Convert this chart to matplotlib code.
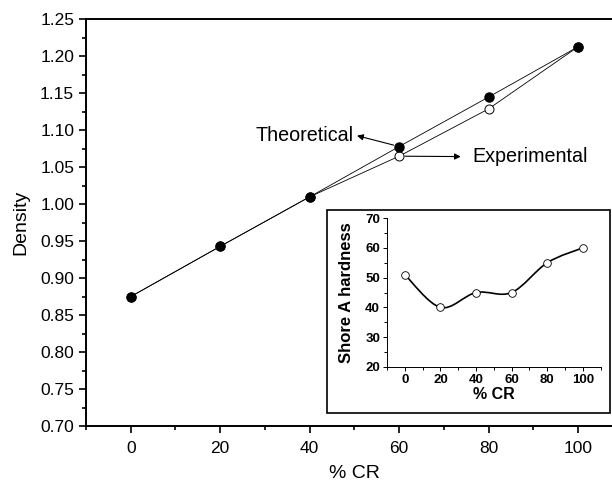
import numpy as np
import matplotlib.pyplot as plt
from matplotlib.path import Path
from matplotlib.patches import PathPatch, Rectangle
from matplotlib.ticker import MultipleLocator

plt.rcParams['font.family'] = ['Liberation Sans', 'DejaVu Sans']

cr = [0, 20, 40, 60, 80, 100]
density_theo = [0.875, 0.943, 1.010, 1.078, 1.145, 1.213]
density_exp = [0.875, 0.943, 1.010, 1.065, 1.129, 1.213]
hardness = [51, 40, 45, 45, 55, 60]


def smooth_path(x, y):
    # Catmull-Rom through the points, written as cubic Bezier segments
    x = np.asarray(x, float)
    y = np.asarray(y, float)
    pts = np.column_stack([x, y])
    verts = [pts[0]]
    codes = [Path.MOVETO]
    n = len(pts)
    for i in range(n - 1):
        p0 = pts[max(i - 1, 0)]
        p1 = pts[i]
        p2 = pts[i + 1]
        p3 = pts[min(i + 2, n - 1)]
        c1 = p1 + (p2 - p0) / 6
        c2 = p2 - (p3 - p1) / 6
        verts += [c1, c2, p2]
        codes += [Path.CURVE4] * 3
    return Path(verts, codes)


fig = plt.figure(figsize=(6.12, 4.82), dpi=100)
ax = fig.add_axes([0.1405, 0.1162, 0.877, 0.8434])

ax.plot(cr, density_exp, '-', color='black', lw=0.6,
        marker='o', ms=6.5, mfc='white', mec='black', mew=0.7, zorder=3)
ax.plot(cr, density_theo, '-', color='black', lw=0.6,
        marker='o', ms=6.5, mfc='black', mec='black', zorder=4)

ax.set_xlim(-10, 110)
ax.set_ylim(0.70, 1.25)
ax.xaxis.set_major_locator(MultipleLocator(20))
ax.xaxis.set_minor_locator(MultipleLocator(10))
ax.yaxis.set_major_locator(MultipleLocator(0.05))
ax.yaxis.set_minor_locator(MultipleLocator(0.025))
ax.yaxis.set_major_formatter(plt.FormatStrFormatter('%.2f'))
ax.tick_params(which='both', direction='out', width=1.2, labelsize=12.5)
ax.tick_params(which='major', length=5)
ax.tick_params(which='minor', length=3)
ax.tick_params(axis='x', pad=6)
ax.spines['right'].set_visible(False)
for s in ['left', 'bottom', 'top']:
    ax.spines[s].set_linewidth(1.4)
ax.set_xlabel('% CR', fontsize=14, labelpad=6)
ax.set_ylabel('Density', fontsize=14, labelpad=8)

ax.annotate('', xy=(50.6, 1.0928), xytext=(58.8, 1.080),
            arrowprops=dict(arrowstyle='-|>', color='black', lw=0.8,
                            mutation_scale=9, shrinkA=0, shrinkB=0))
ax.text(49.8, 1.093, 'Theoretical', fontsize=14.2, ha='right', va='center')
ax.annotate('', xy=(73.8, 1.0645), xytext=(61.3, 1.0650),
            arrowprops=dict(arrowstyle='-|>', color='black', lw=0.8,
                            mutation_scale=9, shrinkA=0, shrinkB=0))
ax.text(76.3, 1.064, 'Experimental', fontsize=14.2, ha='left', va='center')

# inset frame and axes
fig.patches.append(Rectangle((0.5343, 0.1432), 0.4624, 0.4212,
                             transform=fig.transFigure, fill=False,
                             edgecolor='black', lw=1.2, zorder=5))
ins = fig.add_axes([0.6324, 0.2386, 0.349, 0.309])
ins.patch.set_alpha(0)
ins.add_patch(PathPatch(smooth_path(cr, hardness), fill=False,
                        edgecolor='black', lw=1.2))
ins.plot(cr, hardness, 'o', ms=5.5, mfc='white', mec='black', mew=0.6)
ins.set_xlim(-10, 110)
ins.set_ylim(20, 70)
ins.xaxis.set_major_locator(MultipleLocator(20))
ins.xaxis.set_minor_locator(MultipleLocator(10))
ins.yaxis.set_major_locator(MultipleLocator(10))
ins.yaxis.set_minor_locator(MultipleLocator(5))
ins.tick_params(which='both', direction='out', width=0.7, labelsize=9.5, pad=2)
ins.tick_params(which='major', length=3)
ins.tick_params(which='minor', length=2)
for lab in ins.get_xticklabels() + ins.get_yticklabels():
    lab.set_fontweight('bold')
ins.spines['right'].set_visible(False)
ins.spines['top'].set_visible(False)
ins.spines['left'].set_linewidth(0.7)
ins.spines['bottom'].set_linewidth(0.7)
ins.set_xlabel('% CR', fontsize=11.5, fontweight='bold', labelpad=1)
ins.set_ylabel('Shore A hardness', fontsize=12, fontweight='bold', labelpad=8)

fig.savefig('out.png', dpi=100)
